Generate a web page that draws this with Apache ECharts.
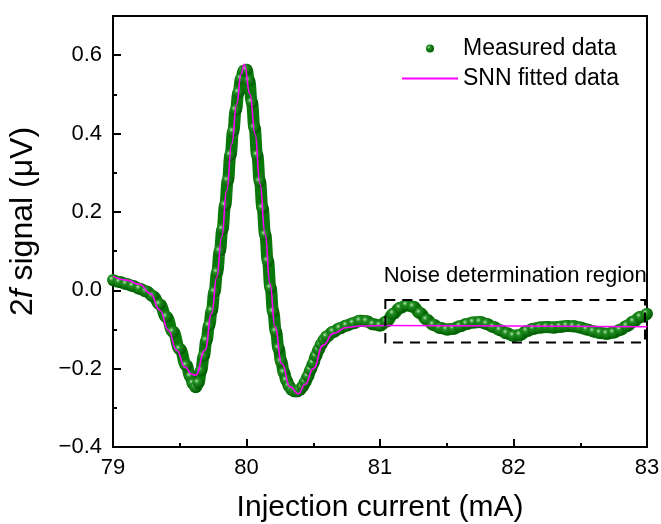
<!DOCTYPE html>
<html>
<head>
<meta charset="utf-8">
<script src="https://cdn.jsdelivr.net/npm/echarts@6/dist/echarts.min.js"></script>
<style>
  html, body { margin: 0; padding: 0; background: #fff; }
  #chart { width: 661px; height: 524px; }
</style>
</head>
<body>
<div id="chart"></div>
<script>
// measured 2f signal
const measuredCurrent = [
  79.00, 79.05, 79.10, 79.15, 79.20, 79.25, 79.30, 79.35, 79.40, 79.45, 79.50, 79.55, 79.58,
  79.60, 79.62, 79.64, 79.66, 79.68, 79.70, 79.72, 79.74, 79.76, 79.78, 79.80, 79.82, 79.84,
  79.86, 79.88, 79.90, 79.92, 79.94, 79.96, 79.98, 80.00, 80.02, 80.04, 80.06, 80.08, 80.10,
  80.12, 80.14, 80.16, 80.18, 80.20, 80.22, 80.24, 80.26, 80.28, 80.30, 80.32, 80.34, 80.36,
  80.38, 80.40, 80.42, 80.44, 80.46, 80.48, 80.50, 80.52, 80.54, 80.56, 80.58, 80.60, 80.65,
  80.70, 80.75, 80.80, 80.85, 80.90, 80.95, 81.00, 81.05, 81.10, 81.15, 81.20, 81.25, 81.30,
  81.35, 81.40, 81.45, 81.50, 81.55, 81.60, 81.65, 81.70, 81.75, 81.80, 81.85, 81.90, 81.95,
  82.00, 82.05, 82.10, 82.15, 82.20, 82.25, 82.30, 82.35, 82.40, 82.45, 82.50, 82.55, 82.60,
  82.65, 82.70, 82.75, 82.80, 82.85, 82.90, 82.95, 83.00
];
const measuredSignal = [
  0.026, 0.021, 0.016, 0.011, 0.004, -0.003, -0.015, -0.036, -0.068, -0.106, -0.150, -0.192, -0.220,
  -0.238, -0.247, -0.236, -0.205, -0.168, -0.128, -0.090, -0.052, -0.004, 0.046, 0.100, 0.156, 0.217,
  0.280, 0.345, 0.405, 0.460, 0.505, 0.540, 0.560, 0.563, 0.535, 0.480, 0.415, 0.345, 0.278,
  0.210, 0.142, 0.075, 0.006, -0.055, -0.105, -0.148, -0.182, -0.210, -0.230, -0.245, -0.254, -0.258,
  -0.258, -0.254, -0.246, -0.234, -0.220, -0.203, -0.186, -0.168, -0.152, -0.138, -0.127, -0.118, -0.106,
  -0.097, -0.090, -0.084, -0.078, -0.079, -0.087, -0.090, -0.080, -0.060, -0.045, -0.038, -0.042, -0.058,
  -0.075, -0.088, -0.096, -0.100, -0.098, -0.092, -0.086, -0.082, -0.081, -0.086, -0.094, -0.102, -0.110,
  -0.116, -0.114, -0.104, -0.098, -0.095, -0.094, -0.095, -0.093, -0.091, -0.092, -0.095, -0.100, -0.105,
  -0.109, -0.111, -0.108, -0.101, -0.091, -0.080, -0.068, -0.060
];

// SNN fitted curve
const fitCurrent = [
  79.000, 79.100, 79.200, 79.277, 79.352, 79.414, 79.477, 79.539, 79.590, 79.619, 79.689, 79.739,
  79.777, 79.814, 79.852, 79.889, 79.927, 79.959, 79.983, 80.026, 80.064, 80.101, 80.139, 80.176,
  80.213, 80.264, 80.326, 80.388, 80.440, 80.500, 80.575, 80.650, 80.750, 80.850, 81.050, 82.000, 83.000
];
const fitSignal = [
  0.036, 0.026, 0.015, -0.008, -0.051, -0.102, -0.153, -0.196, -0.214, -0.217, -0.153, -0.059,
  0.034, 0.136, 0.255, 0.374, 0.476, 0.552, 0.577, 0.501, 0.399, 0.272, 0.144, 0.017,
  -0.093, -0.187, -0.246, -0.264, -0.240, -0.200, -0.140, -0.110, -0.095, -0.091, -0.090, -0.091, -0.093
];

// dashed noise box: [current from, current to], [signal top, signal bottom]
const noiseCurrent = [81.04, 82.985];
const noiseSignal = [-0.025, -0.133];

const xTicks = [79, 83, 1];          // min, max, interval
const yRange = [-0.4, 0.7];
const yMajor = 0.2;
const yMinor = 0.1;

const FONT = '"Liberation Sans", Arial, sans-serif';

function fmtY(v) {
  const s = Math.abs(v).toFixed(1);
  return v < -1e-9 ? '\u2212' + s : s;
}

const chart = echarts.init(document.getElementById('chart'), null, { renderer: 'canvas' });

const sphere = new echarts.graphic.RadialGradient(0.35, 0.35, 0.65, [
  { offset: 0, color: '#b4e2b4' },
  { offset: 0.3, color: '#228f22' },
  { offset: 1, color: '#005a00' }
]);

chart.setOption({
  animation: false,
  textStyle: { fontFamily: FONT, color: '#000' },
  grid: {
    left: 113, right: 14, top: 16, bottom: 77,
    outerBoundsMode: 'none',
    show: true, borderColor: '#000', borderWidth: 2, backgroundColor: 'transparent'
  },
  legend: {
    orient: 'vertical',
    left: 396, top: 32,
    itemWidth: 56, itemHeight: 8, itemGap: 7,
    textStyle: { fontSize: 23, color: '#000', fontFamily: FONT },
    data: [
      { name: 'Measured data', icon: 'circle' },
      { name: 'SNN fitted data', itemStyle: { color: 'rgba(0,0,0,0)', opacity: 0 } }
    ]
  },
  xAxis: {
    type: 'value',
    min: xTicks[0], max: xTicks[1], interval: xTicks[2],
    name: 'Injection current (mA)',
    nameLocation: 'middle', nameGap: 46,
    nameTextStyle: { fontSize: 30, color: '#000', fontFamily: FONT },
    axisLine: { onZero: false, lineStyle: { color: '#000', width: 2 } },
    axisTick: { inside: true, length: 8, lineStyle: { color: '#000', width: 2 } },
    minorTick: { show: true, splitNumber: 2, length: 4, lineStyle: { color: '#000', width: 2 } },
    axisLabel: { fontSize: 22, color: '#000', margin: 10, fontFamily: FONT },
    splitLine: { show: false }
  },
  yAxis: [
    {
      type: 'value',
      min: yRange[0], max: yRange[1], interval: yMinor,
      position: 'left',
      axisLine: { show: true, onZero: false, lineStyle: { color: '#000', width: 2 } },
      axisTick: { inside: true, length: 4, lineStyle: { color: '#000', width: 2 } },
      axisLabel: { show: false },
      splitLine: { show: false }
    },
    {
      type: 'value',
      min: yRange[0], max: yRange[1], interval: yMajor,
      position: 'left', offset: 0,
      name: '2{i|f} signal (\u03bcV)',
      nameLocation: 'middle', nameGap: 74, nameRotate: 90,
      nameTextStyle: {
        fontSize: 32, color: '#000', fontFamily: FONT,
        padding: [0, 0, 0, 20],
        rich: { i: { fontSize: 32, fontStyle: 'italic', fontFamily: FONT, color: '#000' } }
      },
      axisLine: { show: false, onZero: false },
      axisTick: { inside: true, length: 8, lineStyle: { color: '#000', width: 2 } },
      axisLabel: { fontSize: 22, color: '#000', margin: 11, showMaxLabel: false, formatter: fmtY, fontFamily: FONT },
      splitLine: { show: false }
    }
  ],
  series: [
    {
      name: 'Measured data',
      type: 'line',
      yAxisIndex: 0,
      data: measuredCurrent.map((c, i) => [c, measuredSignal[i]]),
      smooth: 0.5,
      smoothMonotone: 'x',
      symbol: 'circle',
      symbolSize: 12,
      showAllSymbol: true,
      lineStyle: { color: '#087808', width: 12 },
      itemStyle: { color: sphere },
      z: 2
    },
    {
      name: 'SNN fitted data',
      type: 'line',
      yAxisIndex: 0,
      data: fitCurrent.map((c, i) => [c, fitSignal[i]]),
      smooth: 0.5,
      smoothMonotone: 'x',
      symbol: 'none',
      lineStyle: { color: '#ff00ff', width: 1.6 },
      itemStyle: { color: '#ff00ff' },
      z: 3,
      markArea: {
        silent: true,
        z: 5,
        itemStyle: {
          color: 'rgba(0,0,0,0)',
          borderColor: '#000', borderWidth: 2, borderType: [10, 7]
        },
        label: {
          show: true, position: 'top', distance: 12,
          formatter: 'Noise determination region',
          fontSize: 22, color: '#000', fontFamily: FONT
        },
        data: [[
          { coord: [noiseCurrent[0], noiseSignal[0]] },
          { coord: [noiseCurrent[1], noiseSignal[1]] }
        ]]
      }
    }
  ]
});
</script>
</body>
</html>
